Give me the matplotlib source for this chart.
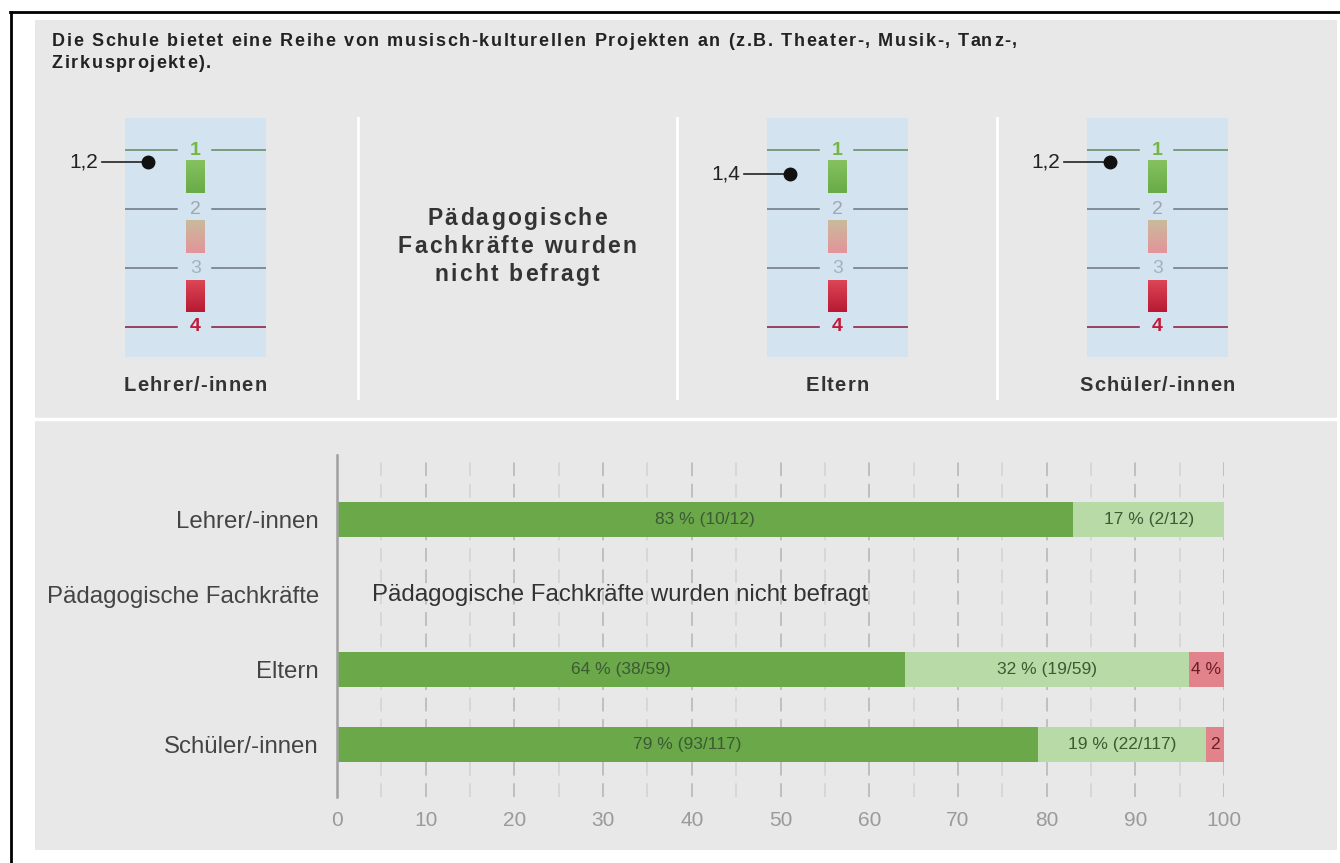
import matplotlib
matplotlib.use("Agg")
import matplotlib.pyplot as plt
import numpy as np
from matplotlib.colors import LinearSegmentedColormap
from matplotlib.patches import Rectangle

W, H = 1340, 863

title_lines = ["Die Schule bietet eine Reihe von musisch-kulturellen Projekten an (z.B. Theater-, Musik-, Tanz-,",
               "Zirkusprojekte)."]

# upper part: mean scores on the 1..4 scale
top_groups = ["Lehrer/-innen", "Eltern", "Schüler/-innen"]
top_means = [1.2, 1.4, 1.2]
top_mean_labels = ["1,2", "1,4", "1,2"]
scale_labels = ["1", "2", "3", "4"]
not_asked_lines = ["Pädagogische", "Fachkräfte wurden", "nicht befragt"]

# lower part: stacked shares
rows = ["Lehrer/-innen", "Pädagogische Fachkräfte", "Eltern", "Schüler/-innen"]
share_1 = [83, np.nan, 64, 79]
share_2 = [17, np.nan, 32, 19]
share_3 = [0, np.nan, 4, 2]
count_1 = [10, None, 38, 93]
count_2 = [2, None, 19, 22]
totals = [12, None, 59, 117]
label_3 = ["", "", "4 %", "2"]
xticks = list(range(0, 101, 10))

plt.rcParams["font.family"] = ["Liberation Sans", "DejaVu Sans"]

fig = plt.figure(figsize=(W / 100, H / 100), dpi=100)
fig.patch.set_facecolor("white")
renderer = fig.canvas.get_renderer()


def px_axes(x0, y0, x1, y1):
    return fig.add_axes([x0 / W, 1 - y1 / H, (x1 - x0) / W, (y1 - y0) / H])


bg = fig.add_axes([0, 0, 1, 1])
bg.set_xlim(0, W)
bg.set_ylim(H, 0)
bg.axis("off")


def text_width(s, **kw):
    # width of s incl. trailing spaces, measured against a bar glyph
    t = bg.text(0, 0, s + "|", **kw)
    w = t.get_window_extent(renderer).width
    t.remove()
    t = bg.text(0, 0, "|", **kw)
    w -= t.get_window_extent(renderer).width
    t.remove()
    return w


def tracked_text(x, y, s, track, ha="left", **kw):
    # bg data units are pixels, so the letter spacing is given in pixels
    total = text_width(s, **kw) + track * (len(s) - 1)
    x0 = x - total / 2 if ha == "center" else x
    for i, ch in enumerate(s):
        if ch == " ":
            continue
        bg.text(x0 + text_width(s[:i], **kw) + track * i, y, ch, ha="left", va="center", **kw)


bg.add_patch(Rectangle((35, 20), 1302, 830, color="#e8e8e8", lw=0))
bg.plot([35, 1337], [419, 419], color="white", lw=2.5)
for x in [358, 677, 997]:
    bg.plot([x, x], [118, 398], color="white", lw=2)
bg.plot([10, W], [12.5, 12.5], color="black", lw=2)
bg.plot([11, 11], [12, H], color="black", lw=2)

title_kw = dict(fontsize=13, fontweight="bold", color="#222222")
for line, yy in zip(title_lines, [41, 64]):
    tracked_text(52, yy, line, 1.6, **title_kw)

na_kw = dict(fontsize=16.5, fontweight="bold", color="#333333")
for line, yy in zip(not_asked_lines, [218, 246, 274]):
    tracked_text(517, yy, line, 2.2, ha="center", **na_kw)

green_cmap = LinearSegmentedColormap.from_list("g", ["#86c160", "#68ab47"])
mid_cmap = LinearSegmentedColormap.from_list("m", ["#c9bb9c", "#e3949a"])
red_cmap = LinearSegmentedColormap.from_list("r", ["#dc4656", "#b81a33"])
num_colors = ["#76b547", "#9ea7b2", "#a4b2c0", "#c01c3a"]
line_colors = ["#5e8a62", "#6b747e", "#6b747e", "#8c1535"]
grad = np.linspace(0, 1, 50).reshape(-1, 1)

for left, group, mean, mlabel in zip([125, 767, 1087], top_groups, top_means, top_mean_labels):
    ax = px_axes(left, 118, left + 141, 357)
    ax.set_facecolor("#d3e3ef")
    for i, lab in enumerate(scale_labels):
        v = i + 1
        ax.plot([0, 0.37], [v, v], color=line_colors[i], lw=1.1)
        ax.plot([0.62, 1], [v, v], color=line_colors[i], lw=1.1)
        ax.text(0.5, v, lab, fontsize=14, ha="center", va="center",
                color=num_colors[i], fontweight="bold" if v in (1, 4) else "normal")
    for cmap, (y0, y1) in zip([green_cmap, mid_cmap, red_cmap],
                              [(1.17, 1.72), (2.19, 2.74), (3.2, 3.74)]):
        ax.imshow(grad, cmap=cmap, aspect="auto", extent=(0.436, 0.564, y1, y0), zorder=2)
    ax.plot([-0.16, 0.164], [mean, mean], color="#222222", lw=1.2, clip_on=False)
    ax.plot(0.164, mean, "o", color="#111111", ms=9, clip_on=False, zorder=5)
    ax.text(-0.19, mean, mlabel, fontsize=15, ha="right", va="center", color="#222222")
    ax.set_xlim(0, 1)
    ax.set_ylim(4.51, 0.455)
    ax.set_xticks([])
    ax.set_yticks([])
    for s in ax.spines.values():
        s.set_visible(False)
    tracked_text(left + 70, 385, group, 1.2, ha="center",
                 fontsize=14.5, fontweight="bold", color="#333333")

# lower stacked bar chart
ax = px_axes(337, 455, 1224, 797)
ax.set_facecolor("none")
ax.set_xlim(0, 100)
ax.set_ylim(3.707, -0.867)
for x in range(5, 101, 5):
    major = x % 10 == 0
    ax.axvline(x, color="#b4b4b4" if major else "#d2d2d2", lw=1.1,
               ls=(0, (9, 5)), zorder=0)

y = np.arange(len(rows))
s1 = np.array(share_1, dtype=float)
s2 = np.array(share_2, dtype=float)
s3 = np.array(share_3, dtype=float)
bh = 0.47
ax.barh(y, s1, height=bh, color="#6aa84a", zorder=2)
ax.barh(y, s2, left=s1, height=bh, color="#b8daa6", zorder=2)
ax.barh(y, s3, left=s1 + s2, height=bh, color="#e2838c", zorder=2)

for i in range(len(rows)):
    if totals[i] is None:
        ax.text(4, i, "Pädagogische Fachkräfte wurden nicht befragt", fontsize=17.3,
                color="#333333", ha="left", va="center")
        continue
    ax.text(s1[i] / 2, i, f"{share_1[i]} % ({count_1[i]}/{totals[i]})", fontsize=12.5,
            color="#3d5a33", ha="center", va="center", zorder=3)
    ax.text(s1[i] + s2[i] / 2, i, f"{share_2[i]} % ({count_2[i]}/{totals[i]})", fontsize=12.5,
            color="#3d5a33", ha="center", va="center", zorder=3)
    if label_3[i]:
        ax.text(s1[i] + s2[i] + s3[i] / 2, i, label_3[i], fontsize=12.5,
                color="#6b1c24", ha="center", va="center", zorder=3)

ax.set_yticks(y)
ax.set_yticklabels(rows, fontsize=17.3, color="#444444")
ax.set_xticks(xticks)
ax.set_xticklabels([str(t) for t in xticks], fontsize=15, color="#9a9a9a",
                   family=["Liberation Sans Narrow", "Liberation Sans"])
ax.tick_params(axis="both", length=0)
ax.tick_params(axis="y", pad=13)
ax.tick_params(axis="x", pad=10)
for name, s in ax.spines.items():
    s.set_visible(name == "left")
ax.spines["left"].set_color("#a0a0a0")
ax.spines["left"].set_linewidth(1.8)

fig.savefig("out.png", dpi=100, facecolor="white")
